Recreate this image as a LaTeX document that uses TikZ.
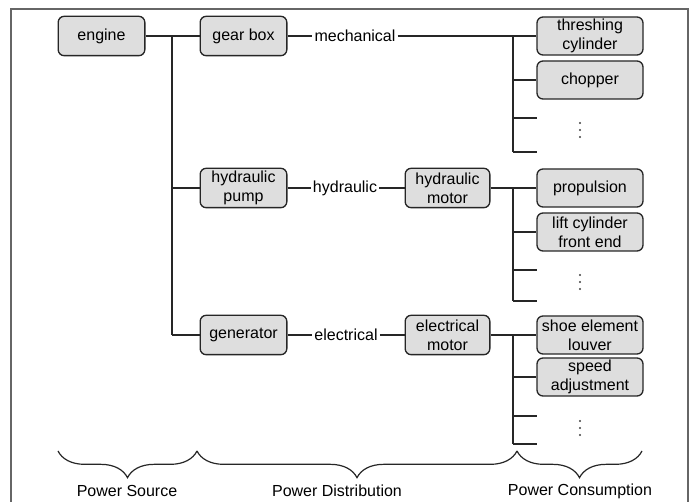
\documentclass[tikz,border=0pt]{standalone}
\usepackage{fontspec}
\setmainfont{Liberation Sans}
\usetikzlibrary{decorations.pathreplacing}
\begin{document}
\begin{tikzpicture}[x=0.75pt,y=-0.75pt,
  every node/.style={font=\fontsize{12}{14}\selectfont},
  pbox/.style={draw=black!85,line width=1pt,fill=black!13,rounded corners=4.5pt,
    align=center,inner sep=0pt,minimum height=29.5pt},
  boxa/.style={pbox,minimum width=65pt},
  boxm/.style={pbox,minimum width=63.5pt},
  boxc/.style={pbox,minimum width=79.5pt,minimum height=28.5pt},
  conn/.style={line width=0.9pt,black!85},
  lbl/.style={inner sep=1.5pt,fill=white},
  brc/.style={decorate,decoration={brace,mirror,amplitude=20pt},line width=0.9pt,black!85},
  dotc/.style={fill=black!75}]
\useasboundingbox (0,0) rectangle (694,502);
\draw[line width=1.4pt,black!60] (11,502) -- (11,9) -- (688,9) -- (688,502);

% nodes
\node[boxa] (engine) at (101.5,36) {engine};
\node[boxa] (gearbox) at (243.5,36) {gear box};
\node[boxa] (pump) at (243.5,188) {hydraulic\\pump};
\node[boxa] (generator) at (243.5,335) {generator};
\node[boxm] (hmotor) at (447.5,188) {hydraulic\\motor};
\node[boxm] (emotor) at (447.5,335) {electrical\\motor};
\node[boxc] (thresh) at (590,36) {threshing\\cylinder};
\node[boxc] (chopper) at (590,80) {chopper};
\node[boxc] (propulsion) at (590,188) {propulsion};
\node[boxc] (lift) at (590,232) {lift cylinder\\front end};
\node[boxc] (shoe) at (590,335) {shoe element\\louver};
\node[boxc] (speed) at (590,377) {speed\\adjustment};

\node[lbl] (mech) at (355,36) {mechanical};
\node[lbl] (hyd) at (345,188) {hydraulic};
\node[lbl] (elec) at (346,335) {electrical};

% vertical ellipses
\foreach \yy in {123,130,137,275,282,289,421,428,435}
  \fill[dotc] (580,\yy) circle (0.9pt);

% coordinates
\coordinate (t1) at (172,36);
\coordinate (b1) at (513,36);
\coordinate (b2) at (513,188);
\coordinate (b3) at (513,335);
\coordinate (s1a) at (537,118);
\coordinate (s1b) at (537,152);
\coordinate (s2a) at (537,270);
\coordinate (s2b) at (537,301);
\coordinate (s3a) at (537,416);
\coordinate (s3b) at (537,444);

% trunk
\draw[conn] (engine.east) -- (gearbox.west);
\draw[conn] (t1) -- (t1 |- generator.west);
\draw[conn] (t1 |- pump.west) -- (pump.west);
\draw[conn] (t1 |- generator.west) -- (generator.west);

% mechanical
\draw[conn] (gearbox.east) -- (mech.west);
\draw[conn] (mech.east) -- (thresh.west);
\draw[conn] (b1) -- (b1 |- s1b);
\draw[conn] (b1 |- chopper.west) -- (chopper.west);
\draw[conn] (b1 |- s1a) -- (s1a);
\draw[conn] (b1 |- s1b) -- (s1b);

% hydraulic
\draw[conn] (pump.east) -- (hyd.west);
\draw[conn] (hyd.east) -- (hmotor.west);
\draw[conn] (hmotor.east) -- (propulsion.west);
\draw[conn] (b2) -- (b2 |- s2b);
\draw[conn] (b2 |- lift.west) -- (lift.west);
\draw[conn] (b2 |- s2a) -- (s2a);
\draw[conn] (b2 |- s2b) -- (s2b);

% electrical
\draw[conn] (generator.east) -- (elec.west);
\draw[conn] (elec.east) -- (emotor.west);
\draw[conn] (emotor.east) -- (shoe.west);
\draw[conn] (b3) -- (b3 |- s3b);
\draw[conn] (b3 |- speed.west) -- (speed.west);
\draw[conn] (b3 |- s3a) -- (s3a);
\draw[conn] (b3 |- s3b) -- (s3b);

% braces
\coordinate (br0) at (58,451);
\coordinate (br1) at (197,451);
\coordinate (br2) at (517,451);
\coordinate (br3) at (642,451);
\draw[brc] (br0) -- (br1);
\draw[brc] (br1) -- (br2);
\draw[brc] (br2) -- (br3);

\node (ps) at (127,491) {Power Source};
\node (pd) at (337,491) {Power Distribution};
\node (pc) at (580,491) {Power Consumption};
\end{tikzpicture}
\end{document}
